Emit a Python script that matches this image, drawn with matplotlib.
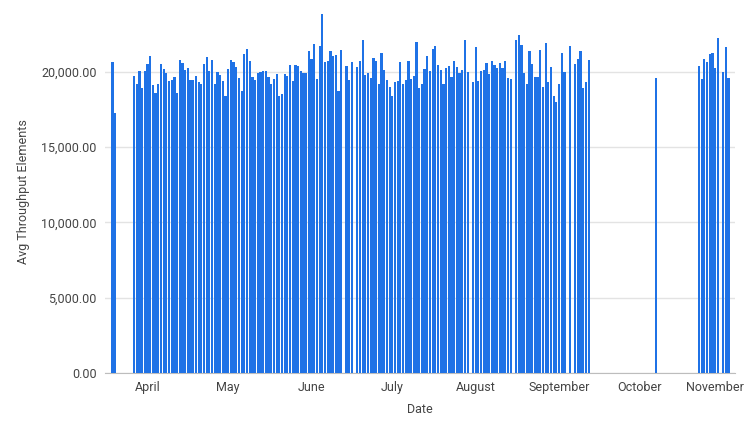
import matplotlib
matplotlib.use("Agg")
import matplotlib.pyplot as plt
import matplotlib.dates as mdates
import matplotlib.transforms as mtransforms
import numpy as np
import datetime as dt

plt.rcParams['font.family'] = ['Roboto', 'DejaVu Sans']

start_date = dt.date(2023, 3, 19)

seg_starts = [0, 8, 87, 91, 118, 134, 150, 170, 172, 202, 218, 227]
seg_values = [
    [20620, 17290],
    [19690, 19220, 20020, 18890, 20020, 20490, 21020, 19090, 18560, 19160,
     20490, 20160, 19890, 19360, 19420, 19620, 18560, 20750, 20560, 20090,
     20220, 19420, 19420, 19690, 19290, 19160, 20490, 20950, 20020, 20750,
     19160, 19960, 19760, 19360, 18360, 20160, 20750, 20620, 20290, 19560,
     18690, 21150, 21490, 20690, 19620, 19420, 19890, 19960, 20020, 20020,
     19620, 19160, 19490, 19820, 18420, 18490, 19820, 19690, 20420, 19360,
     20420, 20360, 20020, 19890, 19890, 21350, 20820, 21820, 19490, 21690,
     23820, 20620, 20690, 21350, 21020, 21090, 18690, 21420],
    [20360, 19420, 20620],
    [20290, 20690, 22090, 19760, 19890, 19560, 20890, 20690, 19220, 21220,
     20090, 19420, 19020, 18420, 19290, 19360, 20620, 19160, 19420, 20690,
     19490, 19690, 21950, 18890, 19220, 20160, 21020],
    [20020, 21490, 21690, 20420, 20090, 19160, 20220, 20360, 19620, 20690,
     20290, 19890, 20090, 22090, 19960],
    [19290, 21620, 19360, 20020, 20090, 20560, 19820, 20690, 20420, 20220,
     20560, 20220, 20690, 19560, 19490],
    [22090, 22420, 21750, 19890, 19160, 21350, 20490, 19620, 19620, 21420,
     19020, 21890, 19290, 20290, 18420, 17960, 19160, 21220, 19960],
    [21690],
    [20490, 20820, 21350, 18890, 19290, 20750],
    [19560],
    [20360, 19490, 20820, 20620, 21150, 21220, 20220, 22220],
    [19960, 21620, 19560],
]

dates, values = [], []
for s, vals in zip(seg_starts, seg_values):
    for i, v in enumerate(vals):
        dates.append(start_date + dt.timedelta(days=s + i))
        values.append(v)

fig = plt.figure(figsize=(7.45, 4.29), dpi=100)
ax = fig.add_axes([105/745, 56/429, 630/745, 363/429])
ax.bar(dates, values, width=0.82, color='#1f72e6', edgecolor='none', zorder=3)

ax.set_ylim(0, 24100)
ax.set_yticks([0, 5000, 10000, 15000, 20000])
ax.yaxis.set_major_formatter(matplotlib.ticker.FuncFormatter(lambda v, p: f"{v:,.2f}"))
ax.grid(axis='y', color='#e3e3e3', linewidth=1, zorder=0)
x0 = mdates.date2num(start_date)
ax.set_xlim(x0 - 2.8, x0 + 231.4)
ax.xaxis.set_major_locator(mdates.MonthLocator(bymonth=range(4, 12)))
ax.xaxis.set_major_formatter(mdates.DateFormatter('%B'))
for sp in ['top', 'right', 'left']:
    ax.spines[sp].set_visible(False)
ax.spines['bottom'].set_color('#bdbdbd')
ax.tick_params(axis='both', length=0, labelsize=9, colors='#444444', pad=6)
ax.set_xlabel('Date', fontsize=9, color='#444444', labelpad=6)
ax.set_ylabel('Avg Throughput Elements', fontsize=9, color='#444444', labelpad=8)

fig.canvas.draw()
labels = ax.get_xticklabels()
if labels:
    last = labels[-1]
    last.set_transform(last.get_transform() +
                       mtransforms.ScaledTranslation(-8/100, 0, fig.dpi_scale_trans))

fig.savefig('out.png', dpi=100)
